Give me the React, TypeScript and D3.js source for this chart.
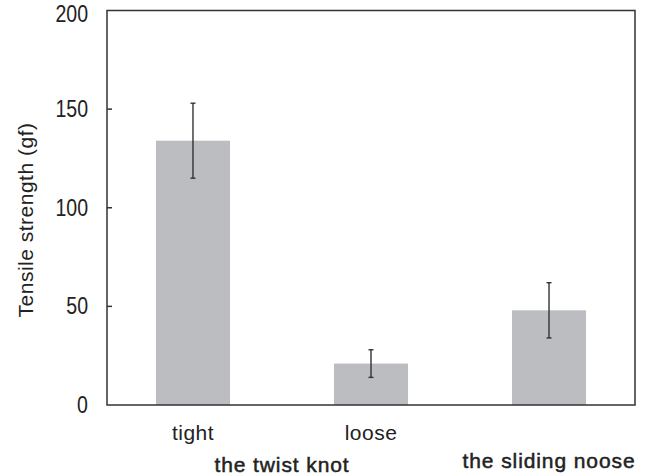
import React from "react";
import * as d3 from "d3";

const categories = ["tight", "loose", "sliding"];
const categoryLabels = ["tight", "loose", ""];
const values = [134, 21, 48];
const errors = [19, 7, 14];
const yTicks = [0, 50, 100, 150, 200];
const groupLabels = [
  { text: "the twist knot", from: 0, to: 1 },
  { text: "the sliding noose", from: 2, to: 2 },
];

const W = 646;
const H = 476;
const margin = { left: 107, right: 11, top: 10.5, bottom: 71 };

export default function App() {
  const x = d3
    .scaleBand<string>()
    .domain(categories)
    .range([margin.left, W - margin.right])
    .paddingInner(0.584)
    .paddingOuter(0.275);
  const y = d3
    .scaleLinear()
    .domain([0, 200])
    .range([H - margin.bottom, margin.top]);
  const font = "'Liberation Sans', Arial, sans-serif";
  const textColor = "#222";
  const axisColor = "#333";
  const center = (c: string) => (x(c) as number) + x.bandwidth() / 2;
  return (
    <svg
      width={W}
      height={H}
      style={{ position: "absolute", left: 0, top: 0 }}
      fontFamily={font}
    >
      <rect width={W} height={H} fill="#fff" />
      {categories.map((c, i) => (
        <rect
          key={c}
          x={x(c)}
          y={y(values[i])}
          width={x.bandwidth()}
          height={y(0) - y(values[i])}
          fill="#bcbdc1"
        />
      ))}
      {categories.map((c, i) => {
        const cx = center(c);
        const y1 = y(values[i] + errors[i]);
        const y2 = y(values[i] - errors[i]);
        return (
          <g key={c} stroke="#333" strokeWidth={1.4}>
            <line x1={cx} x2={cx} y1={y1} y2={y2} />
            <line x1={cx - 2.5} x2={cx + 2.5} y1={y1} y2={y1} />
            <line x1={cx - 2.5} x2={cx + 2.5} y1={y2} y2={y2} />
          </g>
        );
      })}
      <rect
        x={margin.left}
        y={margin.top}
        width={W - margin.left - margin.right}
        height={H - margin.top - margin.bottom}
        fill="none"
        stroke={axisColor}
        strokeWidth={1.5}
      />
      {yTicks.map((t) => (
        <g key={t}>
          {t > 0 && t < 200 && (
            <line
              x1={margin.left}
              x2={margin.left + 5}
              y1={y(t)}
              y2={y(t)}
              stroke={axisColor}
              strokeWidth={1.5}
            />
          )}
          <text
            transform={`translate(88, ${y(t) + (t === 200 ? 5 : 2)}) scale(0.85, 1)`}
            textAnchor="end"
            dominantBaseline="middle"
            fontSize={23}
            fill={textColor}
          >
            {t}
          </text>
        </g>
      ))}
      {categories.map((c, i) => (
        <text
          key={c}
          x={center(c)}
          y={440}
          textAnchor="middle"
          fontSize={21}
          letterSpacing={0.5}
          fill={textColor}
        >
          {categoryLabels[i]}
        </text>
      ))}
      {groupLabels.map((g) => (
        <text
          key={g.text}
          x={(center(categories[g.from]) + center(categories[g.to])) / 2}
          y={g.from === 0 ? 472 : 468}
          textAnchor="middle"
          fontSize={21}
          letterSpacing={0.9}
          stroke={textColor}
          strokeWidth={0.5}
          fill={textColor}
        >
          {g.text}
        </text>
      ))}
      <text
        transform={`translate(33, 220) rotate(-90)`}
        textAnchor="middle"
        fontSize={21}
        letterSpacing={0.5}
        fill={textColor}
      >
        Tensile strength (gf)
      </text>
    </svg>
  );
}
